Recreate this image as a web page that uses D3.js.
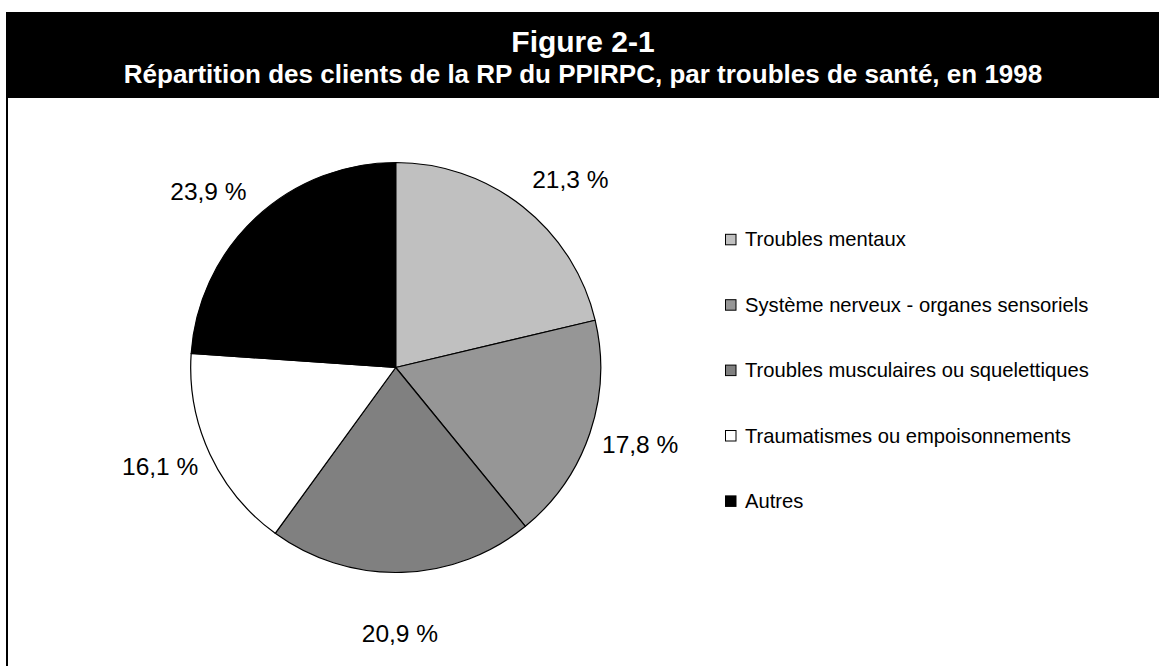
<!DOCTYPE html>
<html><head><meta charset="utf-8">
<script src="https://cdn.jsdelivr.net/npm/d3@7"></script>
<style>html,body{margin:0;padding:0;background:#fff;} svg{display:block;}</style>
</head><body>
<svg id="chart" width="1159" height="666"></svg>
<script>
const categories = ["Troubles mentaux", "Système nerveux - organes sensoriels", "Troubles musculaires ou squelettiques", "Traumatismes ou empoisonnements", "Autres"];
const values = [21.3, 17.8, 20.9, 16.1, 23.9];
const valueLabels = ["21,3 %", "17,8 %", "20,9 %", "16,1 %", "23,9 %"];
const sliceColors = ["#c0c0c0", "#969696", "#808080", "#ffffff", "#000000"];
const titleText = "Figure 2-1";
const subtitleText = "Répartition des clients de la RP du PPIRPC, par troubles de santé, en 1998";
// manual label nudges (pixels) applied after automatic outside placement
const labelNudge = [[0, -7], [-2, -3], [-2, 37], [2, -3], [1, -7]];

const W = 1159, H = 666;
const svg = d3.select("#chart");
const font = "'Liberation Sans', Arial, Helvetica, sans-serif";

// frame
svg.append("rect").attr("x", 7).attr("y", 97).attr("width", W + 20).attr("height", H + 20)
  .attr("fill", "#fff").attr("stroke", "#000").attr("stroke-width", 2);
svg.append("rect").attr("x", 6).attr("y", 12).attr("width", W).attr("height", 86).attr("fill", "#000");

const midX = 583;
svg.append("text").attr("x", midX).attr("y", 52).attr("text-anchor", "middle")
  .attr("font-family", font).attr("font-weight", "bold").attr("font-size", 30).attr("fill", "#fff").text(titleText);
svg.append("text").attr("x", midX).attr("y", 83).attr("text-anchor", "middle")
  .attr("font-family", font).attr("font-weight", "bold").attr("font-size", 26).attr("fill", "#fff").text(subtitleText);

// pie
const cx = 395.7, cy = 367.5, r = 205;
const pie = d3.pie().sort(null).value(d => d)(values);
const arc = d3.arc().innerRadius(0).outerRadius(r);
const g = svg.append("g").attr("transform", `translate(${cx},${cy})`);
g.selectAll("path").data(pie).join("path")
  .attr("d", arc)
  .attr("fill", (d, i) => sliceColors[i])
  .attr("stroke", "#000").attr("stroke-width", 1.2).attr("stroke-linejoin", "round");

// labels
const lfs = 24.5, capH = 0.716 * lfs, R = 220;
pie.forEach((d, i) => {
  const a = (d.startAngle + d.endAngle) / 2;
  const ux = Math.sin(a), uy = -Math.cos(a);
  let px = cx + R * ux, py = cy + R * uy;
  const anchor = Math.abs(ux) < 0.25 ? "middle" : (ux > 0 ? "start" : "end");
  let by = uy < 0 ? py : py + capH;
  svg.append("text")
    .attr("x", px + labelNudge[i][0]).attr("y", by + labelNudge[i][1])
    .attr("text-anchor", anchor)
    .attr("font-family", font).attr("font-size", lfs).attr("fill", "#000")
    .text(valueLabels[i]);
});

// legend
const legY = d3.scalePoint().domain(categories).range([239.3, 500.9]);
const leg = svg.append("g");
categories.forEach((c, i) => {
  const y = legY(c);
  leg.append("rect").attr("x", 725.5).attr("y", y - 5).attr("width", 10.5).attr("height", 10.5)
    .attr("fill", sliceColors[i]).attr("stroke", "#000").attr("stroke-width", 1);
  leg.append("text").attr("x", 745).attr("y", y + 7).attr("font-family", font).attr("font-size", 20.2)
    .attr("fill", "#000").text(c);
});
</script>
</body></html>
